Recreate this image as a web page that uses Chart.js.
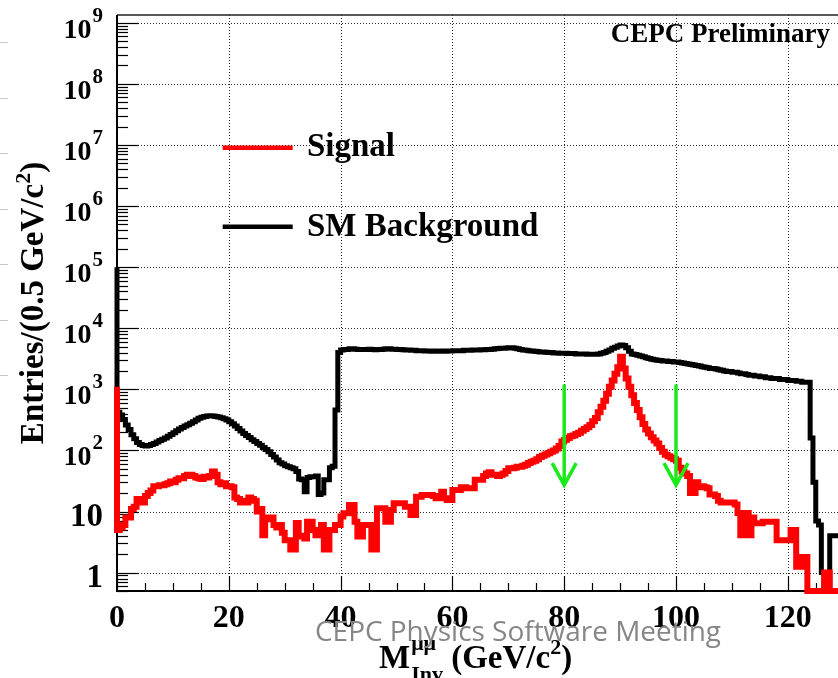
<!DOCTYPE html>
<html>
<head>
<meta charset="utf-8">
<script src="https://cdn.jsdelivr.net/npm/chart.js@4/dist/chart.umd.min.js"></script>
<style>
  html, body { margin: 0; padding: 0; background: #fff; overflow: hidden; }
  #wrap { position: absolute; left: 0; top: 0; width: 850px; height: 678px; }
</style>
</head>
<body>
<div id="wrap"><canvas id="c" width="850" height="678"></canvas></div>
<script>
// Dimuon invariant mass, 0.5 GeV bins starting at 0 GeV
const BIN_WIDTH = 0.5;
const X_MIN = 0, X_MAX = 130;
const Y_MIN = 0.5, Y_MAX = 1.34e9;

// Signal entries per bin (0 = empty bin)
const signal = [
  1100, 5, 5.5, 6, 8, 8, 11, 12, 16, 15,
  14, 18, 20, 22, 26, 26, 27, 27, 28, 29,
  31, 30, 33, 35, 35, 38, 40, 40, 38, 36,
  35, 34, 37, 36, 38, 45, 40, 30, 28, 29,
  26, 26, 25, 17, 16, 14, 15, 14, 17, 16,
  15, 10, 11, 4.1, 8, 7.5, 8, 6, 5.5, 6,
  4.5, 3.4, 3.4, 2.4, 2.4, 6.5, 4, 3.9, 3.6, 6.8,
  6.8, 5, 4.1, 4.1, 6, 2.4, 2.4, 5, 5, 6,
  6, 8.3, 9.4, 9.4, 12.8, 12.8, 6.8, 3.9, 3.9, 6,
  6, 6, 2.4, 2.4, 11.3, 11.3, 11.3, 6.8, 6.8, 10.6,
  13.7, 13.7, 13.7, 13.7, 12, 12, 8.8, 8.8, 17.5, 17.5,
  18.7, 18.7, 18.7, 18.7, 18, 16.5, 16.5, 21, 16.5, 15.4,
  15.4, 22.6, 22.6, 22.6, 25, 25, 24, 24, 24, 33,
  33, 33, 38, 42, 44, 40, 40, 38, 40, 42,
  46, 51, 51, 52, 54, 54, 56, 58, 62, 65,
  68, 72, 78, 82, 86, 90, 95, 100, 108, 118,
  140, 150, 160, 170, 175, 185, 195, 210, 225, 240,
  260, 300, 340, 420, 520, 650, 850, 1100, 1400, 1800,
  2300, 3400, 2200, 1500, 1100, 800, 600, 460, 350, 270,
  220, 190, 165, 145, 130, 110, 95, 85, 80, 76,
  72, 68, 52, 45, 42, 38, 20, 20, 30, 25,
  26, 25, 24, 19, 19, 18, 15, 14, 14, 14,
  14, 14, 13, 9.5, 4.1, 9.5, 9.5, 4.1, 8, 6.4,
  6.4, 6.4, 6.8, 6.8, 6.8, 6.8, 6.8, 3.4, 3.4, 3.4,
  3.4, 3.4, 5, 5, 1.25, 1.25, 1.8, 1.8, 0, 0,
  0, 0, 0, 0, 1, 1, 0, 0, 0, 0
];

// Standard Model background entries per bin
const background = [
  100000, 420, 380, 320, 260, 220, 180, 155, 135, 125,
  120, 118, 120, 125, 130, 138, 145, 152, 160, 170,
  182, 195, 210, 225, 238, 250, 262, 278, 295, 315,
  335, 348, 358, 365, 368, 365, 360, 352, 342, 330,
  315, 295, 272, 250, 228, 208, 190, 175, 162, 150,
  140, 130, 121, 112, 104, 95, 86, 78, 70, 63,
  60, 56, 54, 52, 50, 45, 34, 33, 21, 36,
  37, 37, 38, 19, 20, 33, 33, 52, 55, 460,
  4000, 4400, 4500, 4500, 4600, 4600, 4550, 4500, 4500, 4500,
  4500, 4550, 4500, 4450, 4500, 4500, 4550, 4600, 4600, 4550,
  4550, 4500, 4500, 4450, 4400, 4400, 4350, 4350, 4300, 4300,
  4300, 4250, 4250, 4200, 4250, 4200, 4200, 4250, 4200, 4250,
  4250, 4300, 4300, 4300, 4300, 4350, 4350, 4350, 4400, 4400,
  4400, 4450, 4450, 4500, 4500, 4550, 4600, 4650, 4700, 4700,
  4750, 4800, 4800, 4700, 4600, 4500, 4400, 4350, 4300, 4250,
  4200, 4150, 4100, 4100, 4050, 4000, 4000, 3950, 3950, 3900,
  3900, 3900, 3850, 3850, 3850, 3800, 3800, 3800, 3800, 3750,
  3750, 3750, 3750, 3800, 3900, 4000, 4200, 4400, 4700, 4900,
  5100, 5300, 5200, 4800, 4200, 3800, 3700, 3600, 3500, 3400,
  3300, 3200, 3100, 3050, 3000, 2950, 2900, 2900, 2850, 2850,
  2800, 2800, 2750, 2700, 2650, 2600, 2550, 2500, 2450, 2400,
  2350, 2300, 2250, 2200, 2200, 2150, 2100, 2050, 2000, 1950,
  1950, 1900, 1900, 1850, 1800, 1800, 1750, 1700, 1700, 1650,
  1650, 1600, 1600, 1550, 1550, 1500, 1500, 1500, 1450, 1450,
  1450, 1400, 1400, 1400, 1350, 1350, 1300, 1300, 1300, 160,
  30, 7, 6, 1, 0, 0, 4, 4, 4, 4
];

const seriesLabels = ['Signal', 'SM Background'];
const xMajorTicks = [0, 20, 40, 60, 80, 100, 120];
const xMinorStep = 5;
const yDecadeExponents = [0, 1, 2, 3, 4, 5, 6, 7, 8, 9];

// Mass window cuts marked with arrows
const cutValues = [80, 100];
const cutArrowFrom = 1200;
const cutArrowTo = 27;

const SERIF = '"Liberation Serif", "Times New Roman", serif';

// Step-histogram points: one point per bin low edge plus the closing edge
function histPoints(values) {
  const pts = values.map((v, i) => ({ x: X_MIN + i * BIN_WIDTH, y: v > 0 ? v : Y_MIN }));
  pts.push({ x: X_MIN + values.length * BIN_WIDTH, y: pts[pts.length - 1].y });
  return pts;
}

// Draws a run of text pieces (with super/subscripts) on baseline y
function drawRich(ctx, parts, x, y, align) {
  const widths = parts.map(p => {
    ctx.font = p.font;
    return ctx.measureText(p.t).width;
  });
  const total = widths.reduce((a, b) => a + b, 0);
  let cx = x;
  if (align === 'center') cx = x - total / 2;
  else if (align === 'right') cx = x - total;
  parts.forEach((p, i) => {
    ctx.font = p.font;
    ctx.fillText(p.t, cx, y + (p.dy || 0));
    cx += widths[i];
  });
  return total;
}

const rootStyle = {
  id: 'rootStyle',
  beforeDatasetsDraw(chart) {
    const { ctx, chartArea: a, scales: { x: xs, y: ys } } = chart;
    ctx.save();

    // dotted grid at major ticks
    ctx.strokeStyle = '#2a2a2a';
    ctx.lineWidth = 1;
    ctx.setLineDash([1, 2]);
    yDecadeExponents.forEach(e => {
      const py = Math.round(ys.getPixelForValue(Math.pow(10, e))) + 0.5;
      ctx.beginPath(); ctx.moveTo(a.left, py); ctx.lineTo(a.right, py); ctx.stroke();
    });
    xMajorTicks.forEach(v => {
      if (v === X_MIN) return;
      const px = Math.round(xs.getPixelForValue(v)) + 0.5;
      ctx.beginPath(); ctx.moveTo(px, a.top); ctx.lineTo(px, a.bottom); ctx.stroke();
    });
    ctx.setLineDash([]);

    // frame
    ctx.strokeStyle = '#222';
    ctx.lineWidth = 1.5;
    ctx.beginPath(); ctx.moveTo(a.left, a.top); ctx.lineTo(a.right, a.top); ctx.stroke();
    ctx.strokeStyle = '#000';
    ctx.lineWidth = 2;
    ctx.beginPath(); ctx.moveTo(a.left, a.top); ctx.lineTo(a.left, a.bottom); ctx.lineTo(a.right, a.bottom); ctx.stroke();
    ctx.beginPath(); ctx.moveTo(a.right, a.top); ctx.lineTo(a.right, a.bottom); ctx.stroke();

    // y ticks (log, inside the frame)
    ctx.lineWidth = 1.2;
    for (let e = -1; e <= 9; e++) {
      for (let m = 1; m <= 9; m++) {
        const v = m * Math.pow(10, e);
        if (v < Y_MIN || v > Y_MAX) continue;
        const py = Math.round(ys.getPixelForValue(v)) + 0.5;
        const len = m === 1 ? 21.7 : 11;
        ctx.beginPath(); ctx.moveTo(a.left, py); ctx.lineTo(a.left + len, py); ctx.stroke();
      }
    }
    // x ticks
    for (let v = X_MIN; v <= X_MAX; v += xMinorStep) {
      const px = Math.round(xs.getPixelForValue(v)) + 0.5;
      const len = xMajorTicks.includes(v) ? 15 : 8;
      ctx.beginPath(); ctx.moveTo(px, a.bottom); ctx.lineTo(px, a.bottom - len); ctx.stroke();
    }

    // y tick labels
    ctx.fillStyle = '#000';
    ctx.textBaseline = 'alphabetic';
    const labelRight = a.left - 14;
    yDecadeExponents.forEach(e => {
      const ty = ys.getPixelForValue(Math.pow(10, e));
      if (e < 2) {
        ctx.font = 'bold 33px ' + SERIF;
        ctx.textAlign = 'right';
        ctx.fillText(e === 0 ? '1' : '10', labelRight, ty + 14.5);
      } else {
        ctx.font = 'bold 21px ' + SERIF;
        const supW = ctx.measureText(String(e)).width;
        ctx.textAlign = 'left';
        ctx.fillText(String(e), labelRight - supW, ty - 1);
        ctx.font = 'bold 28px ' + SERIF;
        ctx.textAlign = 'right';
        ctx.fillText('10', labelRight - supW - 1, ty + 15);
      }
    });

    // x tick labels
    ctx.font = 'bold 32px ' + SERIF;
    ctx.textAlign = 'center';
    xMajorTicks.forEach(v => {
      ctx.fillText(String(v), xs.getPixelForValue(v), a.bottom + 36);
    });

    // y axis title
    ctx.save();
    ctx.translate(43, (a.top + a.bottom) / 2);
    ctx.rotate(-Math.PI / 2);
    ctx.textAlign = 'left';
    drawRich(ctx, [
      { t: 'Entries/(0.5 GeV/c', font: 'bold 33px ' + SERIF },
      { t: '2', font: 'bold 22px ' + SERIF, dy: -13 },
      { t: ')', font: 'bold 33px ' + SERIF }
    ], 0, 0, 'center');
    ctx.restore();

    // x axis title: M with stacked super/subscript
    ctx.textAlign = 'left';
    const tx = 379, tb = a.bottom + 77;
    ctx.font = 'bold 33px ' + SERIF;
    ctx.fillText('M', tx, tb);
    const mW = ctx.measureText('M').width;
    ctx.font = 'bold 22px ' + SERIF;
    ctx.fillText('\u03bc\u03bc', tx + mW + 1, tb - 18);
    const supW = ctx.measureText('\u03bc\u03bc').width;
    ctx.fillText('Inv', tx + mW + 1, tb + 13);
    const subW = ctx.measureText('Inv').width;
    const restX = tx + mW + 1 + Math.max(supW, subW);
    drawRich(ctx, [
      { t: ' (GeV/c', font: 'bold 33px ' + SERIF },
      { t: '2', font: 'bold 22px ' + SERIF, dy: -14 },
      { t: ')', font: 'bold 33px ' + SERIF }
    ], restX, tb, 'left');

    ctx.restore();
  },
  afterDatasetsDraw(chart) {
    const { ctx, scales: { x: xs, y: ys } } = chart;
    ctx.save();

    // cut arrows
    ctx.strokeStyle = '#19ea19';
    ctx.lineWidth = 3.5;
    ctx.lineCap = 'butt';
    cutValues.forEach(c => {
      const px = xs.getPixelForValue(c);
      const y0 = ys.getPixelForValue(cutArrowFrom);
      const y1 = ys.getPixelForValue(cutArrowTo);
      ctx.beginPath(); ctx.moveTo(px, y0); ctx.lineTo(px, y1); ctx.stroke();
      ctx.beginPath();
      ctx.moveTo(px - 12, y1 - 22); ctx.lineTo(px, y1); ctx.lineTo(px + 12, y1 - 22);
      ctx.stroke();
    });

    // legend
    const legend = [
      { label: seriesLabels[0], color: chart.data.datasets[0].borderColor, y: 147.7, base: 156 },
      { label: seriesLabels[1], color: chart.data.datasets[1].borderColor, y: 226.7, base: 236 }
    ];
    legend.forEach(l => {
      ctx.strokeStyle = l.color;
      ctx.lineWidth = 4.5;
      ctx.beginPath(); ctx.moveTo(222.7, l.y); ctx.lineTo(292.7, l.y); ctx.stroke();
      ctx.fillStyle = '#000';
      ctx.font = 'bold 33px ' + SERIF;
      ctx.textAlign = 'left';
      ctx.fillText(l.label, 307, l.base);
    });

    // experiment tag
    ctx.font = 'bold 27px ' + SERIF;
    ctx.textAlign = 'right';
    ctx.fillText('CEPC Preliminary', 830, 41.7);

    // meeting footer text
    ctx.font = '27px "Open Sans", "Liberation Sans", sans-serif';
    ctx.textAlign = 'left';
    ctx.fillStyle = '#868686';
    const foot = 'CEPC Physics Software Meeting';
    const fw = ctx.measureText(foot).width;
    ctx.save();
    ctx.translate(315, 641);
    ctx.scale(406 / fw, 1);
    ctx.fillText(foot, 0, 0);
    ctx.restore();

    // slide margin marks
    ctx.strokeStyle = '#c8c8c8';
    ctx.lineWidth = 1;
    for (let i = 0; i < 7; i++) {
      const yy = Math.round(42 + i * 55.5) + 0.5;
      ctx.beginPath(); ctx.moveTo(0, yy); ctx.lineTo(8, yy); ctx.stroke();
    }

    ctx.restore();
  }
};

new Chart(document.getElementById('c'), {
  type: 'line',
  data: {
    datasets: [
      {
        label: seriesLabels[0],
        data: histPoints(signal),
        borderColor: '#ff0000',
        borderWidth: 6,
        stepped: 'after',
        pointRadius: 0,
        fill: false,
        clip: { left: 4, right: 4, top: 0, bottom: 4 }
      },
      {
        label: seriesLabels[1],
        data: histPoints(background),
        borderColor: '#000000',
        borderWidth: 5,
        stepped: 'after',
        pointRadius: 0,
        fill: false,
        clip: { left: 4, right: 4, top: 0, bottom: 4 }
      }
    ]
  },
  options: {
    responsive: false,
    animation: false,
    devicePixelRatio: 1,
    layout: { padding: { left: 117, top: 15, right: 6.3, bottom: 87 } },
    scales: {
      x: { type: 'linear', min: X_MIN, max: X_MAX, display: false },
      y: { type: 'logarithmic', min: Y_MIN, max: Y_MAX, display: false }
    },
    plugins: { legend: { display: false }, tooltip: { enabled: false } }
  },
  plugins: [rootStyle]
});
</script>
</body>
</html>
